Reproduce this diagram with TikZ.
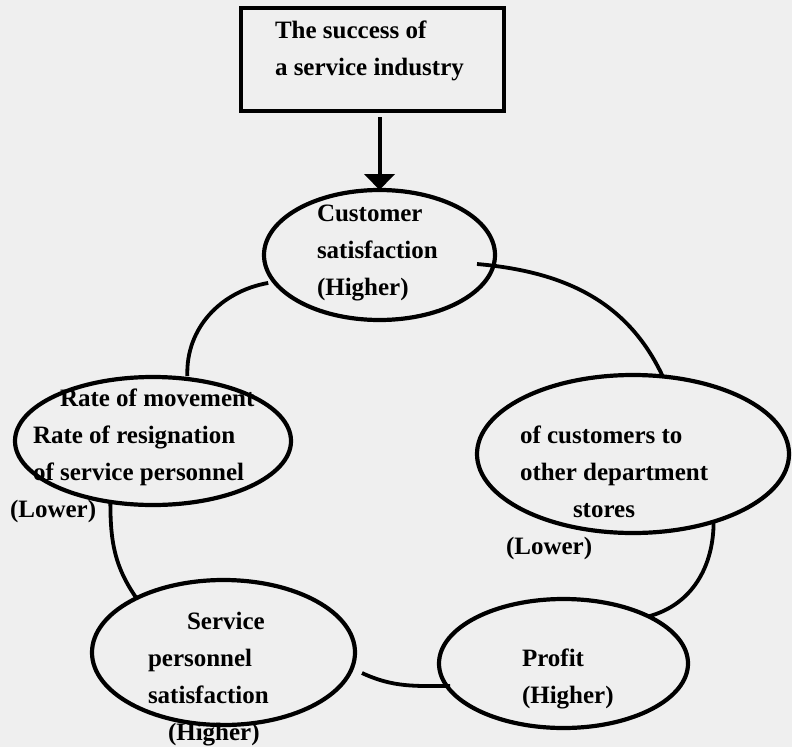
\documentclass[tikz,border=0pt]{standalone}
\usepackage{fontspec}
\setmainfont{Liberation Serif}
\usetikzlibrary{shapes.geometric,arrows.meta,calc}
\definecolor{bg}{RGB}{239,239,239}
\begin{document}
\begin{tikzpicture}[x=1bp,y=-1bp,
  oval/.style={draw, ellipse, line width=4.2bp, inner sep=0pt, outer sep=0pt},
  frame/.style={draw, rectangle, line width=4.5bp, inner sep=0pt, outer sep=0pt},
  lbl/.style={anchor=base west, inner sep=0pt, outer sep=0pt, align=left,
    font=\fontsize{25bp}{37bp}\selectfont\bfseries},
  link/.style={line width=3.8bp},
  lead/.style={line width=4bp, -{Triangle[width=30bp,length=16bp]}}]
\fill[bg] (0,0) rectangle (792,747);
\useasboundingbox (0,0) rectangle (792,747);

% shapes
\node[frame, minimum width=263bp, minimum height=103bp] (box) at (372.5,59.5) {};
\node[oval, minimum width=231bp, minimum height=130bp] (cust) at (379.5,255) {};
\node[oval, minimum width=276bp, minimum height=128bp] (move) at (153,441) {};
\node[oval, minimum width=312bp, minimum height=158bp] (other) at (633,454) {};
\node[oval, minimum width=263bp, minimum height=145bp] (serv) at (223.5,652.5) {};
\node[oval, minimum width=249bp, minimum height=129bp] (prof) at (563.5,663.5) {};

% connectors
\draw[lead] ($(cust.north |- box.south)+(0,6)$) -- (cust.north);
\draw[link] ($(cust.195)+(-7,0)$) to[out=190,in=92] ($(move.61)+(0,-3)$);
\draw[link] ($(cust.east)+(-18,9)$) to[out=-5,in=115] (other.69);
\draw[link] (other.320) to[out=270,in=15] (prof.29);
\draw[link] ($(serv.east)+(7,20.5)$) to[out=-25,in=180] ($(prof.west)+(11,22.5)$);
\draw[link] (move.235) to[out=270,in=125] (serv.148);

% texts (anchored at the baseline of the last line)
\node[lbl] (t0) at (275,76) {The success of\\a service industry};
\node[lbl] (t1) at (317,295) {Customer\\satisfaction\\(Higher)};
\node[lbl] (t2) at (10,517) {\hspace*{50bp}Rate of movement\\\hspace*{23bp}Rate of resignation\\\hspace*{23bp}of service personnel\\(Lower)};
\node[lbl] (t3) at (506,554) {\hspace*{14bp}of customers to\\\hspace*{14bp}other department\\\hspace*{67bp}stores\\(Lower)};
\node[lbl] (t4) at (148,740) {\hspace*{39bp}Service\\personnel\\satisfaction\\\hspace*{20bp}(Higher)};
\node[lbl] (t5) at (522,703) {Profit\\(Higher)};
\end{tikzpicture}
\end{document}
